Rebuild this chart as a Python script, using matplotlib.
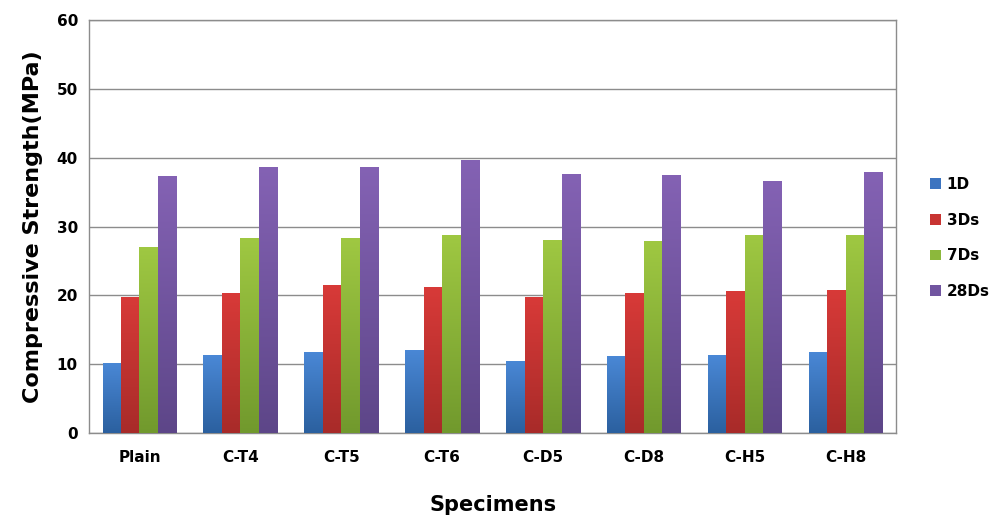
import numpy as np
import matplotlib.pyplot as plt
from matplotlib.colors import LinearSegmentedColormap

specimens = ['Plain', 'C-T4', 'C-T5', 'C-T6', 'C-D5', 'C-D8', 'C-H5', 'C-H8']
series = ['1D', '3Ds', '7Ds', '28Ds']
d1 = [10.2, 11.3, 11.8, 12.1, 10.5, 11.2, 11.3, 11.8]
d3 = [19.8, 20.3, 21.5, 21.2, 19.8, 20.3, 20.6, 20.8]
d7 = [27.0, 28.3, 28.3, 28.8, 28.1, 27.9, 28.8, 28.7]
d28 = [37.4, 38.7, 38.7, 39.7, 37.7, 37.5, 36.6, 37.9]

# top / bottom colours for the gradient fill
top_cols = ['#4a88d6', '#d83a38', '#9fc842', '#8462b4']
bot_cols = ['#2b609f', '#a82b29', '#71992d', '#5d4688']
legend_cols = ['#3c74c0', '#c83432', '#8cb83c', '#7155a0']

fig = plt.figure(figsize=(9.98, 5.29), dpi=100)
ax = fig.add_axes([0.0892, 0.1815, 0.8088, 0.7805])

x = np.arange(len(specimens))
w = 0.183
offsets = (np.arange(4) - 1.5) * w
grad = np.linspace(1, 0, 256).reshape(-1, 1)

for vals, off, tc, bc, lc, lab in zip([d1, d3, d7, d28], offsets, top_cols,
                                      bot_cols, legend_cols, series):
    bars = ax.bar(x + off, vals, w, color=lc, label=lab, zorder=2)
    cmap = LinearSegmentedColormap.from_list('g', [bc, tc])
    for b in bars:
        x0, y0 = b.get_x(), b.get_y()
        im = ax.imshow(grad, cmap=cmap, aspect='auto', zorder=3,
                       extent=[x0, x0 + b.get_width(), y0, y0 + b.get_height()])
        im.set_clip_path(b)

ax.set_xlim(-0.5, len(specimens) - 0.5)
ax.set_ylim(0, 60)
ax.set_yticks(range(0, 61, 10))
ax.set_xticks(x)
ax.set_xticklabels(specimens)
ax.yaxis.grid(True, color='#8c8c8c', linewidth=1.0, zorder=0)
ax.set_axisbelow(True)
for s in ax.spines.values():
    s.set_color('#8c8c8c')
    s.set_linewidth(1.0)
ax.tick_params(length=0, labelsize=11)
for t in ax.get_xticklabels() + ax.get_yticklabels():
    t.set_fontweight('bold')
ax.tick_params(axis='y', pad=8)
ax.tick_params(axis='x', pad=12)

ax.set_ylabel('Compressive Strength(MPa)', fontsize=16, fontweight='bold',
              labelpad=10)
ax.set_xlabel('Specimens', fontsize=15, fontweight='bold', labelpad=22)

handles, labels = ax.get_legend_handles_labels()
fig.legend(handles, labels, loc='center left', bbox_to_anchor=(0.918, 0.55),
           frameon=False, prop={'weight': 'bold', 'size': 11},
           handlelength=0.7, handleheight=0.7, handletextpad=0.4,
           labelspacing=1.35)

fig.savefig('out.png', dpi=100)
